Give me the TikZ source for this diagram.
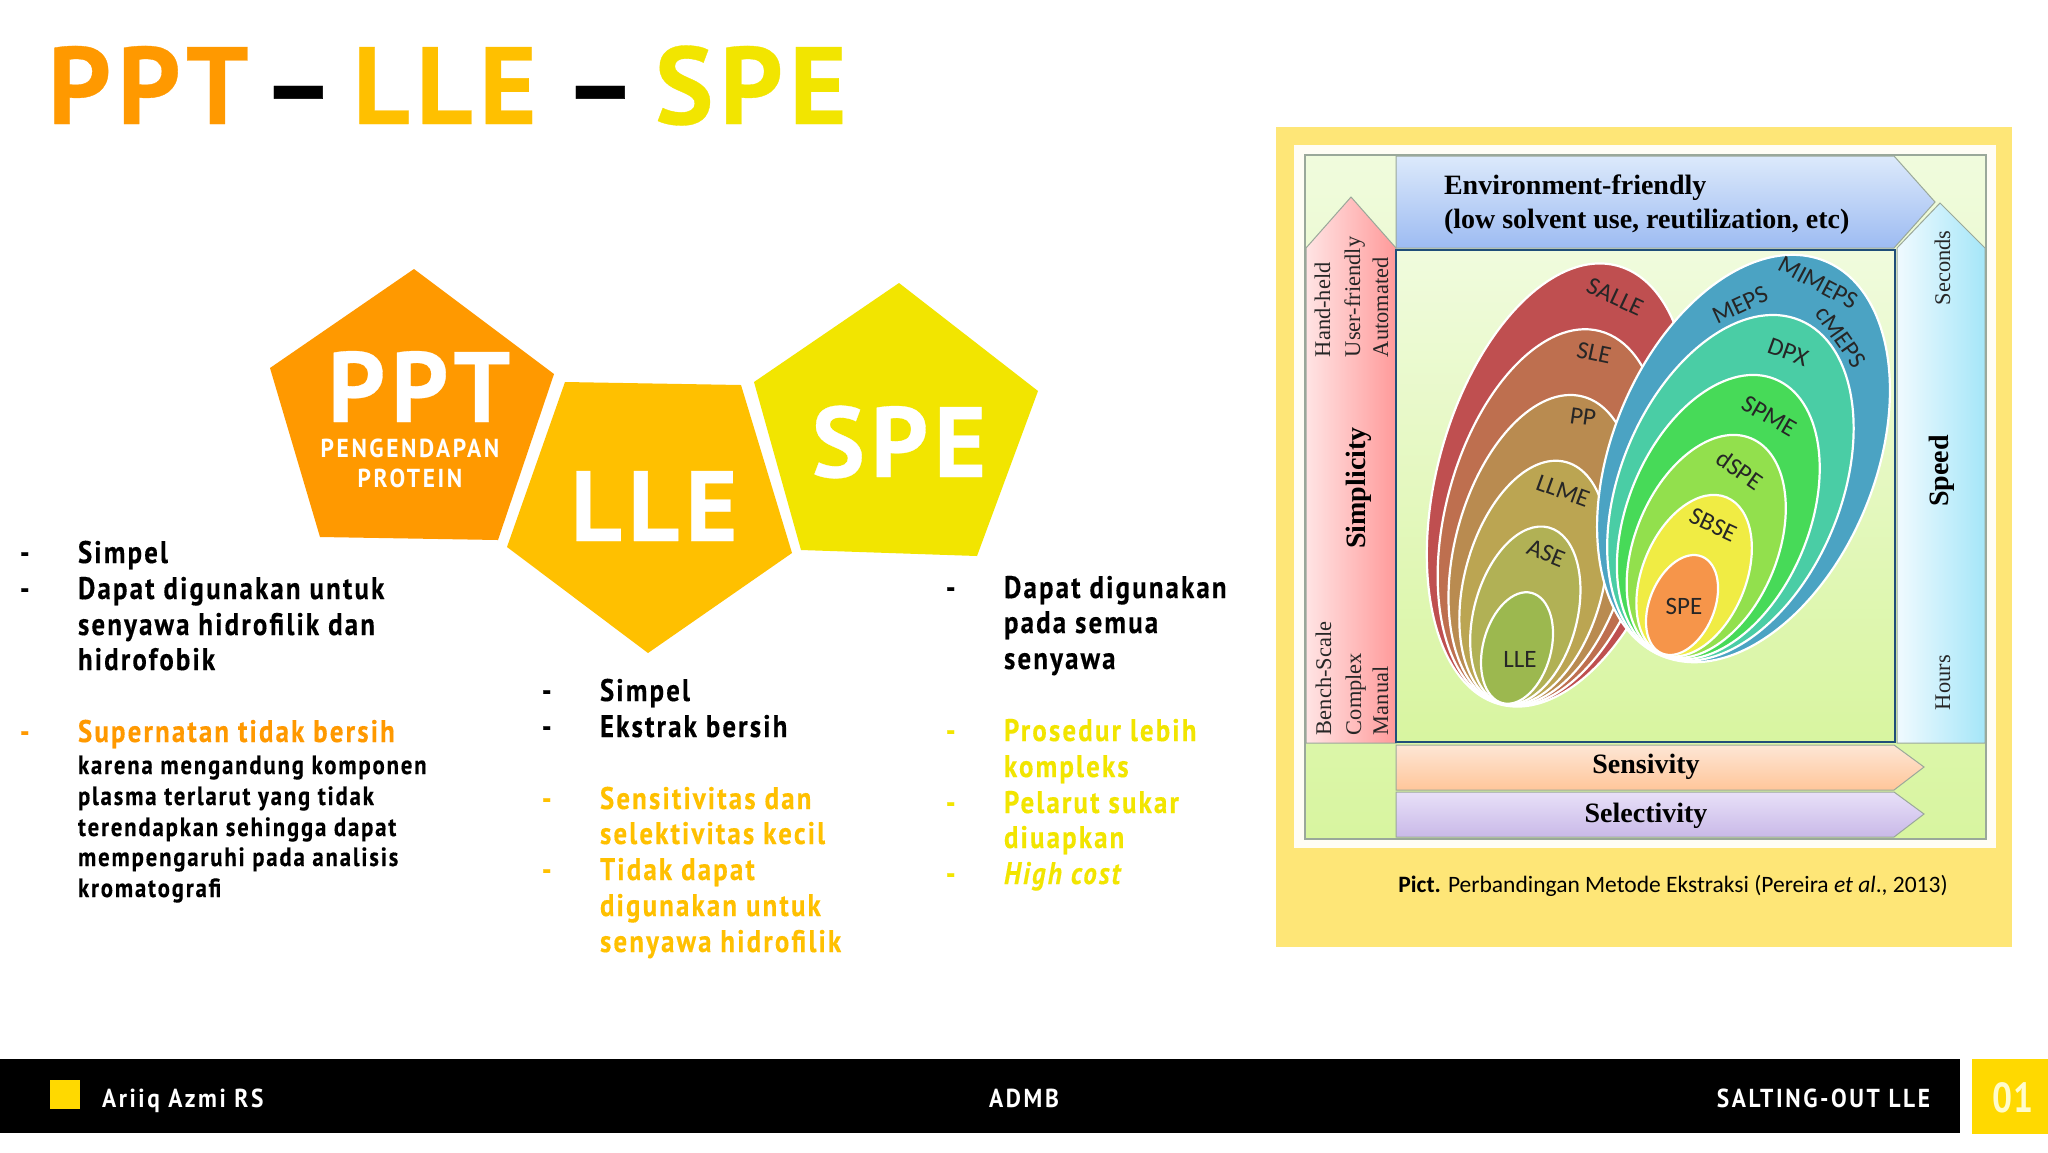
\documentclass[tikz,border=0pt]{standalone}
\usepackage{fontspec}
\setmainfont{PT Sans}
\newfontfamily\din[FakeStretch=0.86,LetterSpace=7,FakeBold=0.3]{PT Sans}
\newfontfamily\dinfoot[FakeStretch=0.9,LetterSpace=10]{PT Sans}
\newfontfamily\dinnum[FakeStretch=0.84,LetterSpace=3]{PT Sans}
\newfontfamily\dinwide[FakeStretch=1.0,LetterSpace=6,FakeBold=0.3]{PT Sans}
\newfontfamily\calb{Carlito}
\newfontfamily\tms{Liberation Serif}
\definecolor{ppt}{HTML}{FF9900}
\definecolor{lle}{HTML}{FFC000}
\definecolor{spe}{HTML}{F2E500}
\definecolor{panel}{HTML}{FEE677}
\definecolor{navy}{HTML}{1F4E79}
\definecolor{padw}{HTML}{FFFDF5}
\definecolor{bgt}{HTML}{F0FBDD}
\definecolor{bgb}{HTML}{D8F5A0}
\definecolor{l1}{HTML}{BF4F50}
\definecolor{l2}{HTML}{BE6F4F}
\definecolor{l3}{HTML}{B98B50}
\definecolor{l4}{HTML}{BBA552}
\definecolor{l5}{HTML}{B1B155}
\definecolor{l6}{HTML}{9CB84F}
\definecolor{r1c}{HTML}{4BA3C3}
\definecolor{r2c}{HTML}{4ACDA5}
\definecolor{r3c}{HTML}{47DA58}
\definecolor{r4c}{HTML}{92E04D}
\definecolor{r5c}{HTML}{F0EC44}
\definecolor{r6c}{HTML}{F6954A}
\definecolor{footy}{HTML}{FFD900}
\definecolor{blt}{HTML}{DCE9FB}
\definecolor{blb}{HTML}{9DBBF2}
\definecolor{cyl}{HTML}{F0FAFF}
\definecolor{cyr}{HTML}{A5E6F8}
\definecolor{rdl}{HTML}{FFE4E4}
\definecolor{rdr}{HTML}{FF9A9A}
\definecolor{ort}{HTML}{FDE6D5}
\definecolor{orb}{HTML}{FFC69A}
\definecolor{vit}{HTML}{E8E0F8}
\definecolor{vib}{HTML}{C9B9E8}
\definecolor{edge}{HTML}{9AA89A}
\tikzset{
  x=0.5pt,y=-0.5pt,
  lab/.style={inner sep=0pt,outer sep=0pt,anchor=base west,font=\din\bfseries\fontsize{15.6}{18}\selectfont},
  small/.style={lab,font=\din\bfseries\fontsize{13.2}{15}\selectfont},
  foot/.style={inner sep=0pt,outer sep=0pt,anchor=base,text=white,font=\dinfoot\bfseries\fontsize{13}{15}\selectfont},
  ttl/.style={inner sep=0pt,outer sep=0pt,anchor=base west,font=\dinwide\bfseries\fontsize{55}{60}\selectfont},
  big/.style={inner sep=0pt,outer sep=0pt,anchor=base,text=white,font=\dinwide\bfseries\fontsize{50}{55}\selectfont},
  sub/.style={inner sep=0pt,outer sep=0pt,anchor=base,text=white,font=\dinfoot\bfseries\fontsize{13}{15}\selectfont},
  serifb/.style={inner sep=0pt,outer sep=0pt,font=\tms\bfseries\fontsize{14}{16}\selectfont},
  side/.style={inner sep=0pt,outer sep=0pt,rotate=90,anchor=base west,font=\tms\fontsize{11.2}{13}\selectfont,text=black!85},
  sideb/.style={inner sep=0pt,outer sep=0pt,rotate=90,anchor=base,font=\tms\bfseries\fontsize{14}{16}\selectfont},
  elab/.style={inner sep=0pt,outer sep=0pt,font=\calb\fontsize{12.5}{14}\selectfont,text=black!85},
  ring/.style={draw=white,line width=1.1pt},
}
\newcommand{\ovl}[6]{\fill[ring,fill=#1,rotate around={-#6:(#2,#3)}] (#2,#3) ellipse [x radius=#5,y radius=#4];}
\begin{document}
\begin{tikzpicture}
\useasboundingbox (0,0) rectangle (2048,1152);
\fill[white] (0,0) rectangle (2048,1152);

% title
\node[ttl,text=ppt] (t1) at (48,124) {PPT};
\node[ttl,text=black] (t2) at (262,124) {–};
\node[ttl,text=lle] (t3) at (353,124) {LLE};
\node[ttl,text=black] (t4) at (564,124) {–};
\node[ttl,text=spe] (t5) at (655,124) {SPE};

% pentagons
\fill[ppt] (414,269) -- (554,374) -- (498,540) -- (320,537) -- (270,368) -- cycle;
\fill[lle] (565,382) -- (741,385) -- (792,553) -- (648,653) -- (507,547) -- cycle;
\fill[spe] (899,283) -- (1038,391) -- (977,556) -- (801,550) -- (754,382) -- cycle;
\node[big] (p1) at (419,422) {PPT};
\node[sub] (p2) at (410,457) {PENGENDAPAN};
\node[sub] (p3) at (410,487) {PROTEIN};
\node[big] (p4) at (654,541) {LLE};
\node[big] (p5) at (899,477) {SPE};

% PPT column
\node[lab] (a0) at (20,563) {-};
\node[lab] (a1) at (78,563) {Simpel};
\node[lab] (a2) at (20,599) {-};
\node[lab] (a3) at (78,599) {Dapat digunakan untuk};
\node[lab] (a4) at (78,635) {senyawa hidrofilik dan};
\node[lab] (a5) at (78,670) {hidrofobik};
\node[lab,text=ppt] (a6) at (20,742) {-};
\node[lab,text=ppt] (a7) at (78,742) {Supernatan tidak bersih};
\node[small] (a8) at (78,774) {karena mengandung komponen};
\node[small] (a9) at (78,805) {plasma terlarut yang tidak};
\node[small] (a10) at (78,836) {terendapkan sehingga dapat};
\node[small] (a11) at (78,866) {mempengaruhi pada analisis};
\node[small] (a12) at (78,897) {kromatografi};

% LLE column
\node[lab] (b0) at (542,701) {-};
\node[lab] (b1) at (600,701) {Simpel};
\node[lab] (b2) at (542,737) {-};
\node[lab] (b3) at (600,737) {Ekstrak bersih};
\node[lab,text=lle] (b4) at (542,809) {-};
\node[lab,text=lle] (b5) at (600,809) {Sensitivitas dan};
\node[lab,text=lle] (b6) at (600,844) {selektivitas kecil};
\node[lab,text=lle] (b7) at (542,880) {-};
\node[lab,text=lle] (b8) at (600,880) {Tidak dapat};
\node[lab,text=lle] (b9) at (600,916) {digunakan untuk};
\node[lab,text=lle] (b10) at (600,952) {senyawa hidrofilik};

% SPE column
\node[lab] (c0) at (946,598) {-};
\node[lab] (c1) at (1004,598) {Dapat digunakan};
\node[lab] (c2) at (1004,633) {pada semua};
\node[lab] (c3) at (1004,669) {senyawa};
\node[lab,text=spe] (c4) at (946,741) {-};
\node[lab,text=spe] (c5) at (1004,741) {Prosedur lebih};
\node[lab,text=spe] (c6) at (1004,777) {kompleks};
\node[lab,text=spe] (c7) at (946,813) {-};
\node[lab,text=spe] (c8) at (1004,813) {Pelarut sukar};
\node[lab,text=spe] (c9) at (1004,848) {diuapkan};
\node[lab,text=spe] (c10) at (946,884) {-};
\node[lab,text=spe] (c11) at (1004,884) {\itshape High cost};

% picture panel
\fill[panel] (1276,127) rectangle (2012,947);
\fill[padw] (1294,145) rectangle (1996,848);
\shade[top color=bgt,bottom color=bgb,draw=edge,line width=0.6pt] (1305,155) rectangle (1986,839);

% arrows
\shade[left color=rdl,right color=rdr,draw=edge,line width=0.5pt]
  (1306,743) -- (1306,248) -- (1351,197) -- (1396,248) -- (1396,743) -- cycle;
\shade[left color=cyl,right color=cyr,draw=edge,line width=0.5pt]
  (1897,743) -- (1897,248) -- (1940,203) -- (1985,248) -- (1985,743) -- cycle;
\shade[top color=blt,bottom color=blb,draw=edge,line width=0.5pt]
  (1396,248) -- (1396,156) -- (1894,156) -- (1935,202) -- (1894,248) -- cycle;
\shade[top color=ort,bottom color=orb,draw=edge,line width=0.5pt]
  (1396,745) -- (1894,745) -- (1924,767) -- (1894,790) -- (1396,790) -- cycle;
\shade[top color=vit,bottom color=vib,draw=edge,line width=0.5pt]
  (1396,792) -- (1894,792) -- (1924,814) -- (1894,837) -- (1396,837) -- cycle;
\shade[top color=bgt,bottom color=bgb,draw=navy,line width=1.1pt]
  (1396,250) rectangle (1895,742);

% left family of ellipses
\ovl{l1}{1558.5}{485}{227}{122}{15}
\ovl{l2}{1550.2}{517.6}{193}{104.4}{15}
\ovl{l3}{1541.9}{550.2}{159}{86.8}{15}
\ovl{l4}{1533.6}{582.8}{125}{69.2}{15}
\ovl{l5}{1525.3}{615.4}{91}{51.6}{15}
\ovl{l6}{1517}{648}{57}{34}{15}
% right family of ellipses
\ovl{r1c}{1743.5}{458.5}{213.6}{131.5}{22.5}
\ovl{r2c}{1730.4}{487.8}{181.4}{110.2}{22.5}
\ovl{r3c}{1718.3}{517.1}{149.2}{90.7}{22.5}
\ovl{r4c}{1706.2}{546.4}{117}{71.2}{22.5}
\ovl{r5c}{1694.1}{575.7}{84.8}{51.7}{22.5}
\ovl{r6c}{1682}{605}{52.4}{32.4}{22.5}

\node[elab,rotate=-25] (e1) at (1615,297) {SALLE};
\node[elab,rotate=-12] (e2) at (1594,353) {SLE};
\node[elab,rotate=-8] (e3) at (1583,417) {PP};
\node[elab,rotate=-20] (e4) at (1563,491) {LLME};
\node[elab,rotate=-22] (e5) at (1546,553) {ASE};
\node[elab] (e6) at (1520,659) {LLE};
\node[elab,rotate=25] (e7) at (1740,305) {MEPS};
\node[elab,rotate=-28] (e8) at (1818,283) {MIMEPS};
\node[elab,rotate=-55] (e9) at (1841,337) {cMEPS};
\node[elab,rotate=-20] (e10) at (1788,352) {DPX};
\node[elab,rotate=-30] (e11) at (1769,416) {SPME};
\node[elab,rotate=-35] (e12) at (1740,470) {dSPE};
\node[elab,rotate=-25] (e13) at (1713,525) {SBSE};
\node[elab] (e14) at (1684,606) {SPE};

% chart texts
\node[serifb,anchor=base west] (s1) at (1444,194) {Environment-friendly};
\node[serifb,anchor=base west] (s2) at (1444,228) {(low solvent use, reutilization, etc)};
\node[serifb,anchor=base] (s3) at (1646,773) {Sensivity};
\node[serifb,anchor=base] (s4) at (1646,822) {Selectivity};
\node[side] (r1) at (1330,357) {Hand-held};
\node[side] (r2) at (1360,357) {User-friendly};
\node[side] (r3) at (1388,357) {Automated};
\node[sideb] (r4) at (1365,488) {Simplicity};
\node[side] (r5) at (1331,735) {Bench-Scale};
\node[side] (r6) at (1361,735) {Complex};
\node[side] (r7) at (1388,735) {Manual};
\node[side] (r8) at (1950,305) {Seconds};
\node[sideb] (r9) at (1948,471) {Speed};
\node[side] (r10) at (1950,710) {Hours};
\node[inner sep=0pt,anchor=base west,font=\calb\fontsize{11.75}{13}\selectfont] (cap) at (1398,892)
  {\textbf{Pict.} Perbandingan Metode Ekstraksi (Pereira \textit{et al}., 2013)};

% footer
\fill[black] (0,1059) rectangle (1960,1133);
\fill[footy] (1972,1059) rectangle (2048,1134);
\fill[footy] (50,1080) rectangle (80,1109);
\node[foot,anchor=base west] (f1) at (102,1107) {Ariiq Azmi RS};
\node[foot] (f2) at (1024,1107) {ADMB};
\node[foot,anchor=base east] (f3) at (1930,1107) {SALTING-OUT LLE};
\node[foot,text=white!80!yellow,font=\dinnum\bfseries\fontsize{21}{24}\selectfont] (f4) at (2013,1112) {01};
\end{tikzpicture}
\end{document}
